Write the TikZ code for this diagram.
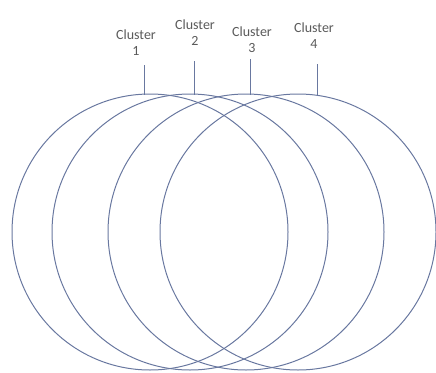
\documentclass[tikz,border=0pt]{standalone}
\usepackage{fontspec}
\setmainfont{Carlito}
\begin{document}
\begin{tikzpicture}[x=1pt,y=-1pt,
  ring/.style={draw=linec, line width=1pt, circle, minimum size=276pt, inner sep=0pt},
  lbl/.style={text=textc, font=\fontsize{14}{16}\selectfont, align=center, inner sep=0pt},
  tick/.style={draw=linec, line width=1pt}]
\definecolor{linec}{RGB}{105,120,160}
\definecolor{textc}{RGB}{90,90,90}
\useasboundingbox (0,0) rectangle (436,372);
\node[ring] (c1) at (150,232) {};
\node[ring] (c2) at (190,232) {};
\node[ring] (c3) at (246,232) {};
\node[ring] (c4) at (298,232) {};
\node[lbl] (l1) at (136,43) {Cluster\\1};
\node[lbl] (l2) at (195,33) {Cluster\\2};
\node[lbl] (l3) at (252,40) {Cluster\\3};
\node[lbl] (l4) at (314,36) {Cluster\\4};
\coordinate (t1a) at (144,65); \coordinate (t1b) at (144,95);
\coordinate (t2a) at (194,61); \coordinate (t2b) at (194,95);
\coordinate (t3a) at (250,59); \coordinate (t3b) at (250,95);
\coordinate (t4a) at (317,64); \coordinate (t4b) at (317,96);
\draw[tick] (t1a) -- (t1b);
\draw[tick] (t2a) -- (t2b);
\draw[tick] (t3a) -- (t3b);
\draw[tick] (t4a) -- (t4b);
\end{tikzpicture}
\end{document}
